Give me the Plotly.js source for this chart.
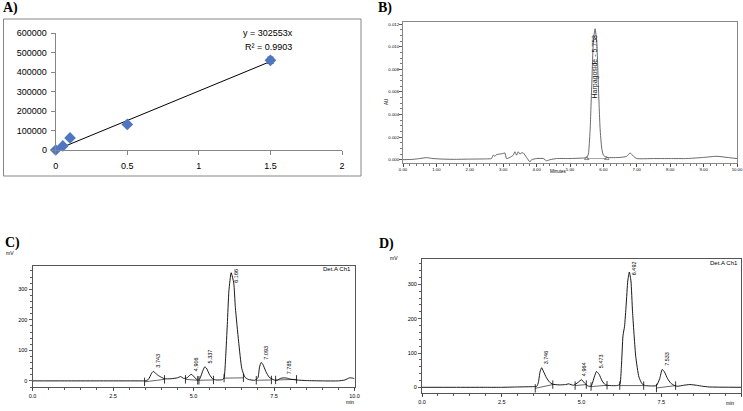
<!DOCTYPE html>
<html>
<head>
<meta charset="utf-8">
<script src="https://cdn.plot.ly/plotly-3.0.1.min.js"></script>
<style>html,body{margin:0;padding:0;background:#fff;}#chart{width:743px;height:411px;}</style>
</head>
<body>
<div id="chart"></div>
<script>
// ---------- Panel A: calibration ----------
const concA = [0, 0.05, 0.1, 0.5, 1.5];
const areaA = [0, 21000, 62000, 131000, 460000];
const errA = [0, 0, 0, 0, 16000];
const slopeA = 302553;
const trendXA = [0, 1.5];
const eqTextA = 'y = 302553x';
const r2TextA = 'R² = 0.9903';

// ---------- Panel B: standard chromatogram (AU) ----------
const timeB = [0.0,0.3,0.5,0.7,0.9,1.2,1.5,2.0,2.5,2.65,2.7,2.75,2.8,2.9,3.0,3.05,3.1,3.2,3.3,3.35,3.4,3.45,3.5,3.55,3.6,3.7,3.8,3.85,4.0,4.2,4.3,4.4,4.6,5.0,5.4,5.5,5.55,5.6,5.65,5.7,5.75,5.8,5.85,5.9,5.95,6.0,6.1,6.5,6.7,6.8,6.9,7.0,7.5,8.0,8.5,9.0,9.4,9.7,10.0];
const auB = [0.0,0.00003,0.0001,0.00018,0.0001,0.00005,0.00003,0.00005,0.00007,0.0001,0.0004,0.0003,0.00045,0.0005,0.00055,0.0006,0.0001,0.0002,0.0004,0.0007,0.0004,0.0007,0.0005,0.0006,0.0006,0.0002,-0.0002,0.0,0.0001,0.0001,-0.0001,0.0,0.0001,0.0001,0.00015,0.0002,0.0005,0.0025,0.0065,0.0105,0.0116,0.0105,0.0065,0.0028,0.001,0.0004,0.0002,0.0002,0.0003,0.0006,0.0003,0.0001,0.0001,0.0001,0.0001,0.0002,0.0003,0.0002,0.0001];
const baseB_x = [5.5, 6.1];
const baseB_y = [0.0001, 0.0001];
const peakB_name = 'Harpagoside - 5.758';
const peakB_t = 5.758;
const peakB_h = 0.0113;
const ticksB_x = [0,1,2,3,4,5,6,7,8,9,10];

// ---------- Panel C: sample chromatogram (mV) ----------
const timeC = [0.0,1.0,2.0,3.0,3.4,3.5,3.6,3.7,3.75,3.8,3.9,4.0,4.1,4.3,4.5,4.6,4.7,4.8,4.9,4.95,5.0,5.1,5.15,5.2,5.3,5.35,5.4,5.5,5.6,5.7,5.9,5.95,6.0,6.05,6.1,6.17,6.25,6.3,6.4,6.5,6.6,6.7,6.9,7.0,7.05,7.1,7.15,7.25,7.35,7.5,7.6,7.7,7.8,7.9,8.0,8.2,8.5,9.0,9.5,9.7,9.85,9.95,10.0];
const mvC = [0,0,0,0,0,0,5,25,31,27,18,12,7,7,10,14,8,10,20,21,15,5,2,8,36,46,42,20,6,3,4,10,80,185,295,354,320,240,130,40,12,5,2,10,45,60,55,30,12,3,2,8,10,9,6,3,1,0,0,3,10,9,7];
const baseC_x = [3.48,4.1,null,4.75,5.13,null,5.17,5.62,null,5.95,6.55,null,6.95,7.42,null,7.55,8.2];
const baseC_y = [-3,5,null,5,2,null,2,3,null,9,10,null,2,3,null,3,5];
const peakC_t = ['3.743','4.906','5.337','6.166','7.093','7.785'];
const peakC_h = [31,21,46,354,60,10];
const ticksCD_x = [0,2.5,5,7.5,10];

// ---------- Panel D: sample chromatogram (mV) ----------
const timeD = [0,1.0,2.0,2.5,3.0,3.5,3.6,3.65,3.7,3.75,3.8,3.9,4.0,4.1,4.3,4.5,4.6,4.75,4.9,5.0,5.1,5.2,5.3,5.4,5.47,5.55,5.65,5.75,5.9,6.1,6.2,6.25,6.3,6.35,6.4,6.45,6.5,6.55,6.6,6.7,6.8,6.9,7.0,7.2,7.35,7.45,7.53,7.6,7.7,7.8,7.9,8.0,8.2,8.4,8.6,8.8,9.0,10.0];
const mvD = [0,0,0,0,1,2,3,15,45,57,48,28,15,9,7,8,10,6,15,22,12,4,3,30,46,38,18,7,5,5,8,60,150,178,240,310,336,310,220,90,30,10,5,4,5,25,52,45,25,12,6,3,6,8,6,3,1,0];
const baseD_x = [3.55,4.1,null,4.8,5.15,null,5.3,5.8,null,6.2,6.95,null,7.35,7.95];
const baseD_y = [-3,8,null,5,8,null,2,6,null,5,5,null,-2,5];
const peakD_t = ['3.746','4.964','5.473','6.492','7.533'];
const peakD_h = [57,22,46,336,52];

// ---------- build ----------
const W = 743, H = 411;
const px = v => v / W;
const py = v => 1 - v / H;
const sans = 'Liberation Sans, Arial, sans-serif';
const serif = 'Liberation Serif, Times New Roman, serif';

const traces = [
  {x: trendXA, y: trendXA.map(v => v * slopeA), xaxis: 'x', yaxis: 'y', mode: 'lines',
   line: {color: '#000', width: 1}, cliponaxis: false},
  {x: concA, y: areaA, xaxis: 'x', yaxis: 'y', mode: 'markers', cliponaxis: false,
   marker: {symbol: 'diamond', size: 9, color: '#4F76C2'},
   error_y: {type: 'data', array: errA, visible: true, color: '#000', thickness: 1, width: 3}},
  {x: timeB, y: auB, xaxis: 'x2', yaxis: 'y2', mode: 'lines', line: {color: '#444', width: 0.8, shape: 'spline', smoothing: 0.5}},
  {x: baseB_x, y: baseB_y, xaxis: 'x2', yaxis: 'y2', mode: 'lines+markers', line: {color: '#666', width: 0.6},
   marker: {symbol: 'triangle-up-open', size: 4, color: '#444', line: {width: 0.6}}},
  {x: timeC, y: mvC, xaxis: 'x3', yaxis: 'y3', mode: 'lines', line: {color: '#000', width: 0.9, shape: 'spline', smoothing: 0.5}},
  {x: baseC_x, y: baseC_y, xaxis: 'x3', yaxis: 'y3', mode: 'lines+markers', line: {color: '#000', width: 0.6},
   marker: {symbol: 'line-ns', size: 6, line: {width: 0.8, color: '#000'}}},
  {x: timeD, y: mvD, xaxis: 'x4', yaxis: 'y4', mode: 'lines', line: {color: '#000', width: 0.9, shape: 'spline', smoothing: 0.5}},
  {x: baseD_x, y: baseD_y, xaxis: 'x4', yaxis: 'y4', mode: 'lines+markers', line: {color: '#000', width: 0.6},
   marker: {symbol: 'line-ns', size: 6, line: {width: 0.8, color: '#000'}}}
];

const annotations = [];
function paperText(text, x, y, size, opts) {
  annotations.push(Object.assign({text: text, x: px(x), y: py(y), xref: 'paper', yref: 'paper',
    showarrow: false, font: {family: sans, size: size, color: '#000'}}, opts || {}));
}
// panel labels
const lab = {family: serif, size: 14, color: '#000'};
paperText('<b>A)</b>', 2, -1, 14, {xanchor: 'left', yanchor: 'top', font: lab, borderpad: 0});
paperText('<b>B)</b>', 377, -1, 14, {xanchor: 'left', yanchor: 'top', font: lab, borderpad: 0});
paperText('<b>C)</b>', 3, 243, 14, {xanchor: 'left', font: lab});
paperText('<b>D)</b>', 377, 243.5, 14, {xanchor: 'left', font: lab});
// panel A equation
annotations.push({text: eqTextA, x: 1.485, y: 600000, xref: 'x', yref: 'y', showarrow: false,
  font: {family: sans, size: 9, color: '#000'}});
annotations.push({text: r2TextA, x: 1.485, y: 528000, xref: 'x', yref: 'y', showarrow: false,
  font: {family: sans, size: 9, color: '#000'}});
// panel B
paperText('AU', 386, 97, 4.5, {textangle: -90});
paperText('Minutes', 569, 172, 4.5);
annotations.push({text: peakB_name, x: peakB_t, y: peakB_h, xref: 'x2', yref: 'y2', showarrow: false,
  textangle: -90, yanchor: 'top', xanchor: 'center', font: {family: sans, size: 7, color: '#111'}});
// panel C
paperText('mV', 4, 253, 5);
paperText('min', 350, 406.5, 5);
paperText('Det.A Ch1', 353, 269, 6, {xanchor: 'right'});
peakC_t.forEach((t, i) => {
  const big = peakC_h[i] > 200;
  annotations.push({text: t, x: parseFloat(t) + 0.17, y: big ? 372 : peakC_h[i] + 4, xref: 'x3', yref: 'y3',
    showarrow: false, textangle: -90, yanchor: big ? 'top' : 'bottom', xanchor: 'center',
    font: {family: sans, size: 5.5, color: '#000'}});
});
// panel D
paperText('mV', 394, 258, 5);
paperText('min', 736, 408, 5);
paperText('Det.A Ch1', 740, 263, 6, {xanchor: 'right'});
peakD_t.forEach((t, i) => {
  const big = peakD_h[i] > 200;
  annotations.push({text: t, x: parseFloat(t) + 0.14, y: big ? 372 : peakD_h[i] + 4, xref: 'x4', yref: 'y4',
    showarrow: false, textangle: -90, yanchor: big ? 'top' : 'bottom', xanchor: 'center',
    font: {family: sans, size: 5.5, color: '#000'}});
});

function chromAxis(extra) {
  return Object.assign({showgrid: false, zeroline: false, showline: true, mirror: true, linecolor: '#555', linewidth: 1,
    ticks: 'outside', ticklen: 3, tickwidth: 0.8, tickcolor: '#333', tickfont: {family: sans, size: 5.5, color: '#000'}}, extra);
}

const layout = {
  width: W, height: H, margin: {l: 0, r: 0, t: 0, b: 0},
  paper_bgcolor: '#fff', plot_bgcolor: '#fff', showlegend: false,
  xaxis: {domain: [px(55.7), px(342)], range: [0, 2], dtick: 0.5, anchor: 'y', showgrid: false, zeroline: false,
    showline: true, linecolor: '#868686', ticks: 'outside', ticklen: 4, tickcolor: '#868686', ticklabelstandoff: 3,
    tickfont: {family: sans, size: 9, color: '#000'}},
  yaxis: {domain: [py(150), py(33)], range: [0, 600000], dtick: 100000, tickformat: 'd', anchor: 'x', showgrid: false,
    zeroline: false, showline: true, linecolor: '#868686', ticks: 'outside', ticklen: 4, tickcolor: '#868686', ticklabelstandoff: 2,
    tickfont: {family: sans, size: 9, color: '#000'}},
  xaxis2: chromAxis({domain: [px(403), px(737)], range: [0, 10], tickmode: 'array', tickvals: ticksB_x,
    ticktext: ticksB_x.map(v => v.toFixed(2)), anchor: 'y2', ticklabelstandoff: -1,
    linecolor: '#888', tickfont: {family: sans, size: 4.3, color: '#000'}, minor: {ticks: 'outside', ticklen: 2, dtick: 0.2, tickcolor: '#555'}}),
  yaxis2: chromAxis({domain: [py(162.5), py(22)], range: [-0.00025, 0.0122], dtick: 0.002, tick0: 0, tickformat: '.3f', anchor: 'x2',
    linecolor: '#888', ticklabelstandoff: -1, tickfont: {family: sans, size: 4.3, color: '#000'}, minor: {ticks: 'outside', ticklen: 2, dtick: 0.0005, tickcolor: '#555'}}),
  xaxis3: chromAxis({domain: [px(32.5), px(354.5)], range: [0, 10], tickmode: 'array', tickvals: ticksCD_x,
    ticktext: ticksCD_x.map(v => v.toFixed(1)), anchor: 'y3',
    minor: {ticks: 'outside', ticklen: 2, dtick: 0.5, tickcolor: '#333'}}),
  yaxis3: chromAxis({domain: [py(387), py(266)], range: [-20, 376], dtick: 100, anchor: 'x3',
    minor: {ticks: 'outside', ticklen: 2, dtick: 20, tickcolor: '#333'}}),
  xaxis4: chromAxis({domain: [px(422), px(741)], range: [0, 10], tickmode: 'array', tickvals: ticksCD_x,
    ticktext: ticksCD_x.map(v => v.toFixed(1)), anchor: 'y4',
    minor: {ticks: 'outside', ticklen: 2, dtick: 0.5, tickcolor: '#333'}}),
  yaxis4: chromAxis({domain: [py(393), py(259)], range: [-16.6, 374], dtick: 100, anchor: 'x4',
    minor: {ticks: 'outside', ticklen: 2, dtick: 20, tickcolor: '#333'}}),
  shapes: [
    {type: 'rect', xref: 'paper', yref: 'paper', x0: px(3.5), x1: px(361), y0: py(176), y1: py(19),
     line: {color: '#868686', width: 1}, fillcolor: 'rgba(0,0,0,0)'}
  ],
  annotations: annotations
};

Plotly.newPlot('chart', traces, layout, {staticPlot: true, displayModeBar: false});
</script>
</body>
</html>
